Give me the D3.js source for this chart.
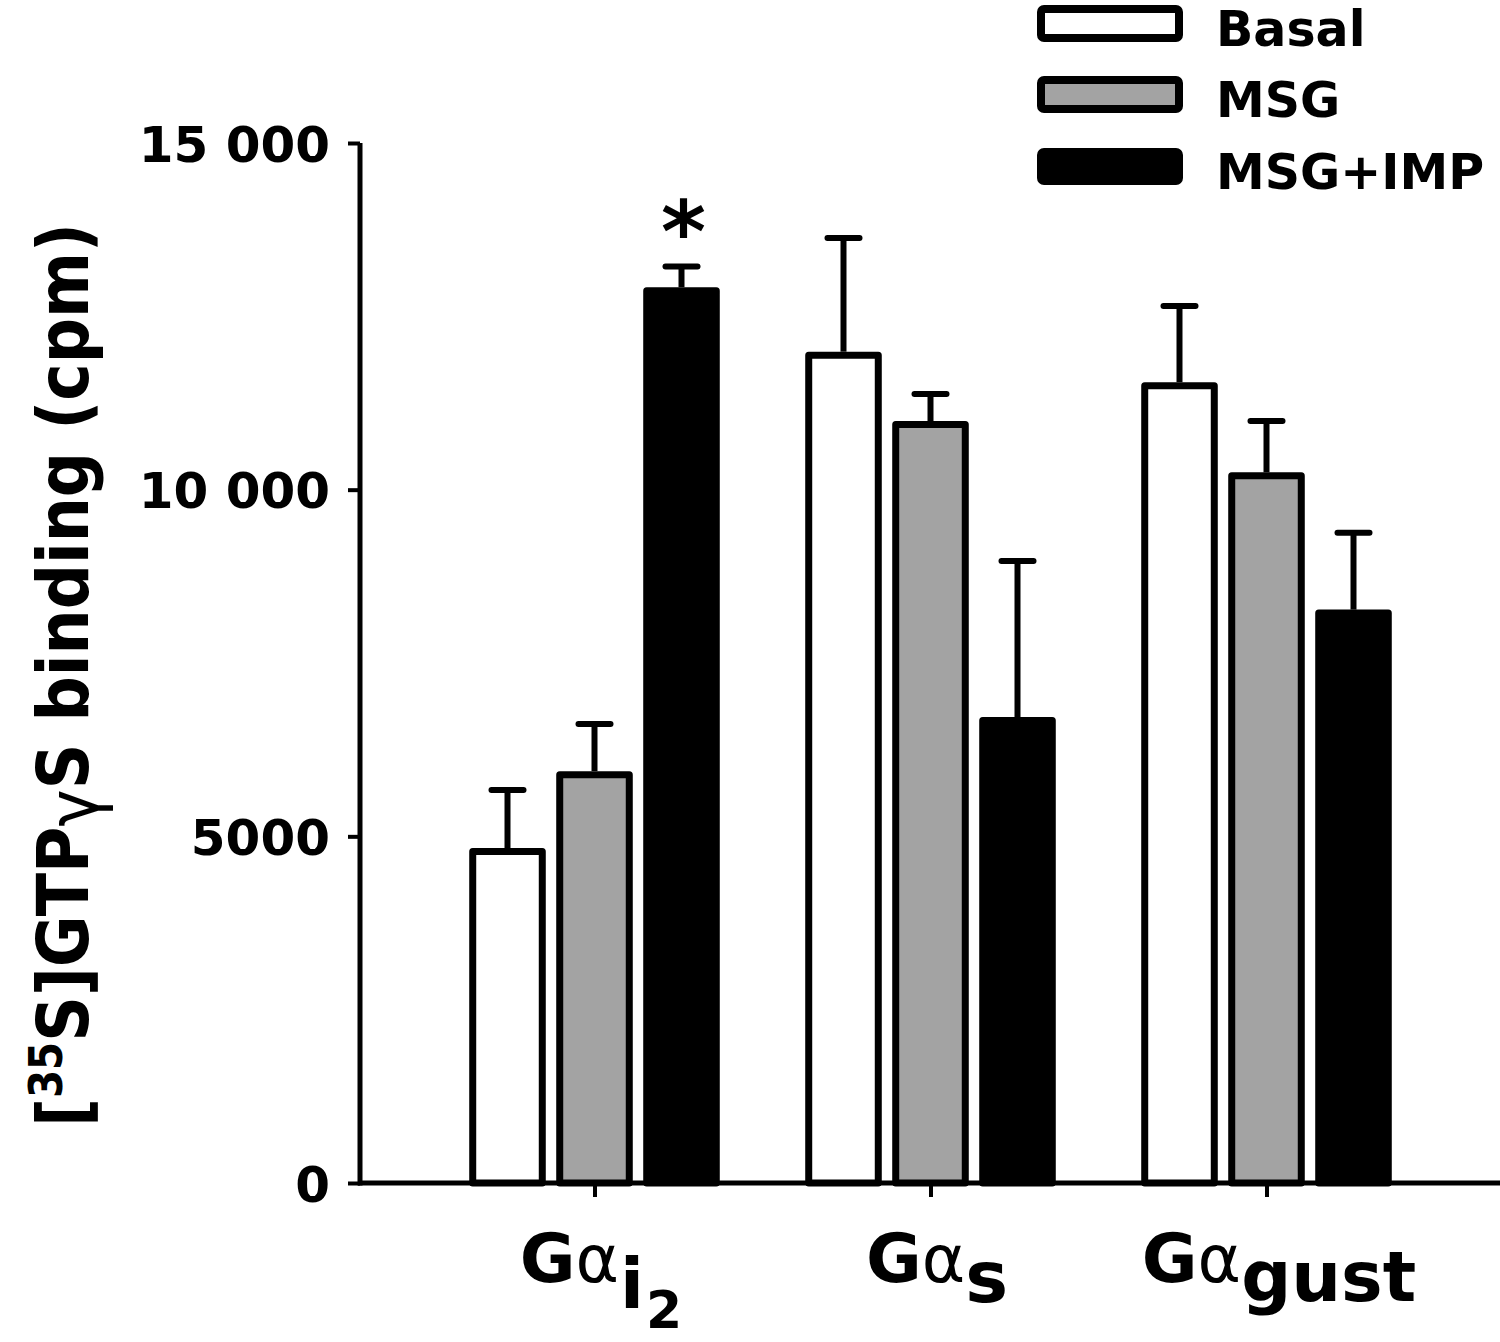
<!DOCTYPE html>
<html><head><meta charset="utf-8">
<script src="https://cdn.jsdelivr.net/npm/d3@7"></script>
<style>body{margin:0;background:#fff} text{font-family:"DejaVu Sans",sans-serif;}</style>
</head><body>
<svg id="c" width="1500" height="1342"></svg>
<script>
const groups = ["Gai2", "Gas", "Gagust"];
const series = ["Basal", "MSG", "MSG+IMP"];
const basal = [4830, 11990, 11550];
const basalErr = [840, 1640, 1100];
const msg = [5940, 10990, 10250];
const msgErr = [680, 390, 740];
const msgImp = [12920, 6720, 8270];
const msgImpErr = [300, 2250, 1110];
const yTicks = [0, 5000, 10000, 15000];
const yTickLabels = ["0", "5000", "10 000", "15 000"];
const fills = ["#ffffff", "#a3a3a3", "#000000"];

const values = [basal, msg, msgImp];
const errs = [basalErr, msgErr, msgImpErr];

const svg = d3.select("#c");
const y = d3.scaleLinear().domain([0, 15000]).range([1183, 143]);
const x0 = d3.scaleBand().domain(groups).range([427, 1435]);
const x1 = d3.scaleBand().domain(series).range([37, 298]).paddingInner(0.12).paddingOuter(0.06);
const bw = x1.bandwidth();
const SW = 7;

const rows = [];
groups.forEach((g, gi) => series.forEach((s, si) => rows.push({g, s, si, v: values[si][gi], e: errs[si][gi]})));

// bars
svg.append("g").selectAll("rect").data(rows).join("rect")
  .attr("x", d => x0(d.g) + x1(d.s) + SW / 2)
  .attr("width", bw - SW)
  .attr("y", d => y(d.v) + SW / 2)
  .attr("height", d => y(0) - y(d.v) - SW / 2)
  .attr("fill", d => fills[d.si])
  .attr("stroke", "#000")
  .attr("stroke-width", SW)
  .attr("stroke-linejoin", "round");

// error bars
const eg = svg.append("g").attr("stroke", "#000").attr("stroke-width", 6).attr("stroke-linecap", "round");
eg.selectAll("line.v").data(rows).join("line").attr("class", "v")
  .attr("x1", d => x0(d.g) + x1(d.s) + bw / 2).attr("x2", d => x0(d.g) + x1(d.s) + bw / 2)
  .attr("y1", d => y(d.v)).attr("y2", d => y(d.v + d.e)).attr("stroke-linecap", "butt");
eg.selectAll("line.c").data(rows).join("line").attr("class", "c")
  .attr("x1", d => x0(d.g) + x1(d.s) + bw / 2 - 16).attr("x2", d => x0(d.g) + x1(d.s) + bw / 2 + 16)
  .attr("y1", d => y(d.v + d.e)).attr("y2", d => y(d.v + d.e));

// asterisk
const star = rows.find(d => d.g === "Gai2" && d.s === "MSG+IMP");
svg.append("text").attr("x", x0(star.g) + x1(star.s) + bw / 2 + 2).attr("y", y(star.v + star.e) - 4)
  .attr("text-anchor", "middle").attr("font-weight", "bold").attr("font-size", 86).text("*");

// y axis
const yAxis = svg.append("g").attr("transform", "translate(360,0)")
  .call(d3.axisLeft(y).tickValues(yTicks).tickFormat((d, i) => yTickLabels[i]).tickSize(12).tickSizeOuter(0).tickPadding(18));
yAxis.select(".domain").attr("stroke-width", 5).attr("d", `M0,${y(15000)}V${y(0) + 2.5}`);
yAxis.selectAll(".tick line").attr("stroke-width", 4);
yAxis.selectAll(".tick text").attr("font-size", 50).attr("font-weight", "bold").attr("font-family", "DejaVu Sans").attr("dy", "0.36em").attr("fill", "#000");

// x axis
const xAxis = svg.append("g").attr("transform", `translate(0,${y(0)})`)
  .call(d3.axisBottom(x0).tickSize(14).tickSizeOuter(0).tickFormat(""));
xAxis.select(".domain").attr("stroke-width", 5).attr("d", "M358,0H1500");
xAxis.selectAll(".tick line").attr("stroke-width", 4);

// x labels
const labelY = 1282;
function xlabel(g, dx, parts) {
  const t = svg.append("text").attr("x", x0(g) + x0.bandwidth() / 2 + dx).attr("y", labelY).attr("text-anchor", "middle");
  parts.forEach(p => {
    const ts = t.append("tspan").text(p.t).attr("font-size", p.fs).attr("font-weight", p.w || "bold");
    if (p.dy) ts.attr("dy", p.dy);
    if (p.dx) ts.attr("dx", p.dx);
  });
}
xlabel("Gai2", 6, [{t: "G", fs: 68}, {t: "α", fs: 66, w: "normal"}, {t: "i", fs: 70, dy: 26, dx: 1}, {t: "2", fs: 52, dy: 20, dx: 2}]);
xlabel("Gas", 6, [{t: "G", fs: 68}, {t: "α", fs: 66, w: "normal"}, {t: "s", fs: 72, dy: 20}]);
xlabel("Gagust", 12, [{t: "G", fs: 68}, {t: "α", fs: 66, w: "normal"}, {t: "gust", fs: 70, dy: 19}]);

// y title (condensed along its length)
const yt = svg.append("text").attr("transform", "translate(88,675) rotate(-90) scale(0.88,1)").attr("text-anchor", "middle")
  .attr("font-weight", "bold").attr("font-size", 72);
yt.append("tspan").text("[");
yt.append("tspan").text("35").attr("font-size", 46).attr("dy", -26);
yt.append("tspan").text("S]GTP").attr("dy", 26);
yt.append("tspan").text("γ").attr("font-weight", "normal").attr("dy", 10);
yt.append("tspan").text("S binding (cpm)").attr("dy", -10);

// legend
const legY = [5, 76, 148];
const lg = svg.append("g");
series.forEach((s, i) => {
  lg.append("rect").attr("x", 1041).attr("y", legY[i] + 4).attr("width", 138).attr("height", 29)
    .attr("fill", fills[i]).attr("stroke", "#000").attr("stroke-width", 8).attr("rx", 3);
  lg.append("text").attr("x", 1216).attr("y", legY[i] + 41).attr("font-size", 49).attr("font-weight", "bold").text(s);
});
</script>
</body></html>
